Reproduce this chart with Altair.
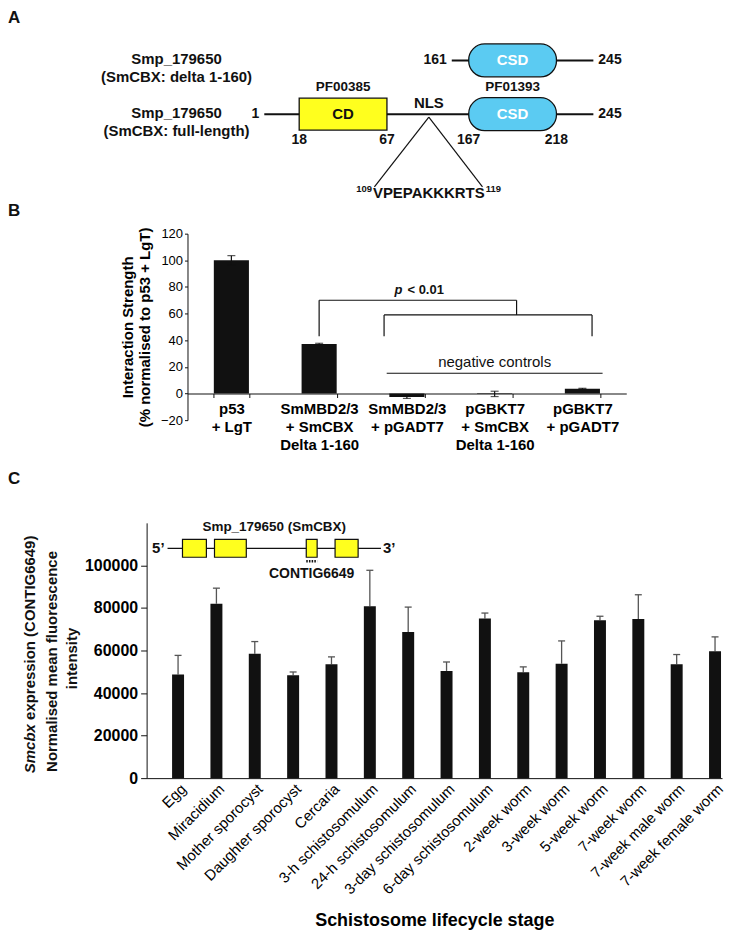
import json
import altair as alt
import pandas as pd

FONT = "Liberation Sans"
BLACK = "#111111"
YELLOW = "#FFFF1E"
CYAN = "#5BCBF2"

# ================= Panel A data: protein architecture =================
prot_names = ["Smp_179650\n(SmCBX: delta 1-160)", "Smp_179650\n(SmCBX: full-length)"]
prot_track = [1, 2]
prot_start = [161, 1]
prot_end = [245, 245]

dom_label = ["CD", "CSD", "CSD"]
dom_pfam = ["PF00385", "PF01393", ""]
dom_track = [2, 2, 1]
dom_start = [18, 167, 167]
dom_end = [67, 218, 218]

nls_start, nls_end = 109, 119
nls_seq = "VPEPAKKKRTS"
nls_zoom_to = [60, 175]

# ================= Panel B data: yeast two-hybrid =================
b_labels = ["p53\n+ LgT", "SmMBD2/3\n+ SmCBX\nDelta 1-160", "SmMBD2/3\n+ pGADT7",
            "pGBKT7\n+ SmCBX\nDelta 1-160", "pGBKT7\n+ pGADT7"]
b_vals = [100, 37.2, -2.7, -0.3, 3.5]
b_errs = [3.5, 0.5, 1.0, 2.0, 0.4]
# significance brackets (x in category-step units, y in % units)
br_left = [1.5, 2.24]
br_right = [3.75, 4.61]
br_top = [70, 59]
br_foot_left = [43, 43]
br_foot_right = [59, 43]
neg_ctrl_x = [2.27, 4.73]
neg_ctrl_y = 15.2

# ================= Panel C data: lifecycle expression =================
stages = ["Egg", "Miracidium", "Mother sporocyst", "Daughter sporocyst", "Cercaria",
          "3-h schistosomulum", "24-h schistosomulum", "3-day schistosomulum",
          "6-day schistosomulum", "2-week worm", "3-week worm", "5-week worm",
          "7-week worm", "7-week male worm", "7-week female worm"]
c_vals = [48700, 82000, 58500, 48400, 53500, 80800, 68700, 50400, 75000,
          49800, 53800, 74200, 74800, 53500, 59600]
c_errs = [9000, 7300, 5700, 1500, 3500, 16900, 11700, 4200, 2600,
          2500, 10700, 1900, 11400, 4600, 6800]
gene_exon_start = [7.0, 22.0, 65.0, 78.5]
gene_exon_end = [18.2, 36.9, 70.1, 89.3]
gene_len = 100
probe_exon = 2
gene_track = 110000

W = 577          # common panel width (all panels share the same left origin)
LX = -139        # panel-letter x relative to the shared origin


def letter(t, y):
    return alt.Chart(pd.DataFrame({"t": [t]})).mark_text(
        align="left", baseline="top", fontSize=17, fontWeight="bold", color=BLACK
    ).encode(x=alt.value(LX), y=alt.value(y), text="t:N")


# ---------------- Panel A ----------------
xA = dict(scale=alt.Scale(domain=[1, 18, 67, 114, 161, 167, 218, 245],
                          range=[118, 153, 241, 283, 306, 323, 411, 448],
                          nice=False, zero=False), axis=None)
yA = dict(scale=alt.Scale(domain=[0.16, 3.5], reverse=True, nice=False, zero=False), axis=None)

prot = pd.DataFrame(dict(name=prot_names, track=prot_track, start=prot_start, end=prot_end))
prot["s_lab"] = prot["start"].astype(str)
prot["e_lab"] = prot["end"].astype(str)
dom = pd.DataFrame(dict(label=dom_label, pfam=dom_pfam, track=dom_track, start=dom_start, end=dom_end))
dom["mid"] = (dom["start"] + dom["end"]) / 2
full_dom = dom[dom["track"] == 2]
bounds = pd.DataFrame(dict(pos=list(full_dom["start"]) + list(full_dom["end"]), track=2))
bounds["lab"] = bounds["pos"].astype(str)
nls = pd.DataFrame(dict(mid=[(nls_start + nls_end) / 2] * 2, to=nls_zoom_to, track=[2, 2]))
nls1 = nls.iloc[:1].copy()
nls1["seq"] = nls_seq
nls1["s"] = str(nls_start)
nls1["e"] = str(nls_end)

base_prot = alt.Chart(prot)
lines = base_prot.mark_rule(color=BLACK, strokeWidth=2).encode(
    x=alt.X("start:Q", **xA), x2="end:Q", y=alt.Y("track:Q", **yA))
row_lab = base_prot.mark_text(fontSize=15, fontWeight="bold", lineBreak="\n", lineHeight=18,
                              dx=-88, dy=-1, color=BLACK).encode(
    x=alt.XDatum(1, **xA), y=alt.Y("track:Q", **yA), text="name:N")
start_lab = base_prot.mark_text(fontSize=14, fontWeight="bold", align="right", dx=-5, color=BLACK).encode(
    x=alt.X("start:Q", **xA), y=alt.Y("track:Q", **yA), text="s_lab:N")
end_lab = base_prot.mark_text(fontSize=14, fontWeight="bold", align="left", dx=5, color=BLACK).encode(
    x=alt.X("end:Q", **xA), y=alt.Y("track:Q", **yA), text="e_lab:N")

base_dom = alt.Chart(dom)
cd_box = base_dom.transform_filter(alt.datum.label == "CD").mark_bar(
    orient="horizontal", size=32, color=YELLOW, stroke=BLACK, strokeWidth=1.3).encode(
    x=alt.X("start:Q", **xA), x2="end:Q", y=alt.Y("track:Q", **yA))
csd_box = base_dom.transform_filter(alt.datum.label == "CSD").mark_bar(
    orient="horizontal", size=33, color=CYAN, stroke=BLACK, strokeWidth=1.3, cornerRadius=16).encode(
    x=alt.X("start:Q", **xA), x2="end:Q", y=alt.Y("track:Q", **yA))
dom_txt = base_dom.mark_text(fontSize=15, fontWeight="bold").encode(
    x=alt.X("mid:Q", **xA), y=alt.Y("track:Q", **yA), text="label:N",
    color=alt.Color("label:N", scale=alt.Scale(domain=["CD", "CSD"], range=[BLACK, "#ffffff"]), legend=None))
pfam_txt = base_dom.transform_filter(alt.datum.pfam != "").mark_text(
    fontSize=13.5, fontWeight="bold", dy=-27, color=BLACK).encode(
    x=alt.X("mid:Q", **xA), y=alt.Y("track:Q", **yA), text="pfam:N")
bound_txt = alt.Chart(bounds).mark_text(fontSize=14, fontWeight="bold", dy=26, color=BLACK).encode(
    x=alt.X("pos:Q", **xA), y=alt.Y("track:Q", **yA), text="lab:N")
nls_lab = alt.Chart(nls1).mark_text(fontSize=15, fontWeight="bold", dy=-11, color=BLACK).encode(
    x=alt.X("mid:Q", **xA), y=alt.Y("track:Q", **yA), text=alt.value("NLS"))
nls_legs = alt.Chart(nls).mark_rule(color=BLACK, strokeWidth=1.2, yOffset=3, y2Offset=73).encode(
    x=alt.X("mid:Q", **xA), x2="to:Q", y=alt.Y("track:Q", **yA), y2="track:Q")
nls_seq_t = alt.Chart(nls1).mark_text(fontSize=15, fontWeight="bold", dy=79, color=BLACK).encode(
    x=alt.X("mid:Q", **xA), y=alt.Y("track:Q", **yA), text="seq:N")
nls_s = alt.Chart(nls1).mark_text(fontSize=9.5, fontWeight="bold", dy=75, dx=-57, align="right", color=BLACK).encode(
    x=alt.X("mid:Q", **xA), y=alt.Y("track:Q", **yA), text="s:N")
nls_e = alt.Chart(nls1).mark_text(fontSize=9.5, fontWeight="bold", dy=75, dx=57, align="left", color=BLACK).encode(
    x=alt.X("mid:Q", **xA), y=alt.Y("track:Q", **yA), text="e:N")

panelA = alt.layer(lines, nls_legs, cd_box, csd_box, dom_txt, pfam_txt, bound_txt, row_lab,
                   start_lab, end_lab, nls_lab, nls_seq_t, nls_s, nls_e,
                   letter("A", 0)).properties(width=W, height=190)

# ---------------- Panel B ----------------
B_RANGE = [41, 481]
bdf = pd.DataFrame(dict(cat=b_labels, val=b_vals, err=b_errs))
bdf["lo"] = bdf["val"] - bdf["err"]
bdf["hi"] = bdf["val"] + bdf["err"]

bx = alt.X("cat:N", sort=b_labels,
           scale=alt.Scale(range=B_RANGE, paddingInner=0.6, paddingOuter=0.3),
           axis=alt.Axis(title=None, labelExpr="split(datum.label, '\\n')", labelFontWeight="bold",
                         labelFontSize=15, labelLineHeight=18, labelColor="black", labelAngle=0,
                         tickBand="extent", tickSize=4, tickColor=BLACK, domainColor=BLACK,
                         offset=-26.7, labelPadding=4))
bscale = alt.Scale(domain=[-20, 120], nice=False)
baxis = alt.Axis(values=list(range(-20, 121, 20)), grid=False, offset=-B_RANGE[0],
                 title=["Interaction Strength", "(% normalised to p53 + LgT)"],
                 titleFontSize=15, titleFontWeight="bold", titleLineHeight=17, titleColor="black",
                 labelFontSize=13, labelColor="black", tickSize=3, labelPadding=2,
                 tickColor=BLACK, domainColor=BLACK, titlePadding=8)
bbase = alt.Chart(bdf)
b_bars = bbase.mark_bar(color=BLACK).encode(x=bx, y=alt.Y("val:Q", scale=bscale, axis=baxis))
b_err = bbase.mark_rule(color=BLACK, strokeWidth=1.2).encode(
    x=bx, y=alt.Y("lo:Q", scale=bscale, axis=baxis), y2="hi:Q")
b_cap_hi = bbase.mark_tick(color=BLACK, size=8, thickness=1.2).encode(
    x=bx, y=alt.Y("hi:Q", scale=bscale, axis=baxis))
b_cap_lo = bbase.mark_tick(color=BLACK, size=8, thickness=1.2).encode(
    x=bx, y=alt.Y("lo:Q", scale=bscale, axis=baxis))
b_main = alt.layer(b_bars, b_err, b_cap_hi, b_cap_lo)

segs = []
for l, r, t, fl, fr in zip(br_left, br_right, br_top, br_foot_left, br_foot_right):
    segs += [dict(x=l, x2=l, y=fl, y2=t), dict(x=l, x2=r, y=t, y2=t), dict(x=r, x2=r, y=t, y2=fr)]
segs.append(dict(x=neg_ctrl_x[0], x2=neg_ctrl_x[1], y=neg_ctrl_y, y2=neg_ctrl_y))
sdf = pd.DataFrame(segs)
axB = dict(scale=alt.Scale(domain=[0, 5], range=B_RANGE, nice=False, zero=False), axis=None)
ayB = dict(scale=alt.Scale(domain=[-20, 120], nice=False), axis=None)
b_br = alt.Chart(sdf).mark_rule(color=BLACK, strokeWidth=1.2).encode(
    x=alt.X("x:Q", **axB), x2="x2:Q", y=alt.Y("y:Q", **ayB), y2="y2:Q")
tdf = pd.DataFrame(dict(x=[2.45], y=[78], nx=[3.5], ny=[23.5]))
b_p = alt.Chart(tdf).mark_text(fontSize=13, fontWeight="bold", fontStyle="italic", align="right",
                               color=BLACK).encode(
    x=alt.X("x:Q", **axB), y=alt.Y("y:Q", **ayB), text=alt.value("p"))
b_p2 = alt.Chart(tdf).mark_text(fontSize=13, fontWeight="bold", align="left", dx=5, color=BLACK).encode(
    x=alt.X("x:Q", **axB), y=alt.Y("y:Q", **ayB), text=alt.value("< 0.01"))
b_neg = alt.Chart(tdf).mark_text(fontSize=15, color=BLACK).encode(
    x=alt.X("nx:Q", **axB), y=alt.Y("ny:Q", **ayB), text=alt.value("negative controls"))
b_ann = alt.layer(b_br, b_p, b_p2, b_neg, letter("B", -31))

panelB = alt.layer(b_main, b_ann).resolve_scale(x="independent", y="independent").properties(
    width=B_RANGE[1], height=187)

# ---------------- Panel C ----------------
cdf = pd.DataFrame(dict(stage=stages, val=c_vals, err=c_errs))
cdf["i"] = range(len(stages))
cdf["hi"] = cdf["val"] + cdf["err"]

cx = alt.X("i:Q", scale=alt.Scale(domain=[-0.69, -0.69 + W / 39.14], nice=False, zero=False),
           axis=alt.Axis(values=list(range(len(stages))), labelExpr=json.dumps(stages) + "[datum.value]",
                         labelAngle=-45, labelFontSize=15, labelColor="black", ticks=False,
                         labelPadding=3, labelOverlap=False, labelFlush=False, domainColor=BLACK,
                         grid=False, title="Schistosome lifecycle stage", titleFontSize=18,
                         titleFontWeight="bold", titlePadding=15, titleColor="black"))
cscale = alt.Scale(domain=[0, 120000], nice=False)
caxis = alt.Axis(values=list(range(0, 100001, 20000)), format="d", labelFontSize=16,
                 labelFontWeight="bold", labelColor="black", tickSize=6, labelPadding=3,
                 tickColor=BLACK, domainColor=BLACK, grid=False, title=None)
cbase = alt.Chart(cdf)
c_err = cbase.mark_rule(color="#555555", strokeWidth=1.3).encode(
    x=cx, y=alt.Y("val:Q", scale=cscale, axis=caxis), y2="hi:Q")
c_cap = cbase.mark_rule(color="#555555", strokeWidth=1.3, xOffset=-3.5, x2Offset=3.5).encode(
    x=cx, x2="i:Q", y=alt.Y("hi:Q", scale=cscale, axis=caxis))
c_bars = cbase.mark_bar(size=12, color=BLACK, orient="vertical").encode(
    x=cx, y=alt.Y("val:Q", scale=cscale, axis=caxis, stack=None))

one = pd.DataFrame({"t": ["x"]})
tstyle = dict(angle=270, baseline="middle", fontSize=15, fontWeight="bold", color=BLACK)
t1a = alt.Chart(one).mark_text(align="left", fontStyle="italic", **tstyle).encode(
    x=alt.value(-117), y=alt.value(251), text=alt.value("Smcbx"))
t1b = alt.Chart(one).mark_text(align="left", **tstyle).encode(
    x=alt.value(-117), y=alt.value(197.6), text=alt.value("expression (CONTIG6649)"))
t2 = alt.Chart(one).mark_text(align="center", **tstyle).encode(
    x=alt.value(-95), y=alt.value(139), text=alt.value("Normalised mean fluorescence"))
t3 = alt.Chart(one).mark_text(align="center", **tstyle).encode(
    x=alt.value(-75), y=alt.value(136), text=alt.value("intensity"))
c_main = alt.layer(c_err, c_cap, c_bars, t1a, t1b, t2, t3, letter("C", -52))

gdf = pd.DataFrame(dict(start=gene_exon_start, end=gene_exon_end, gy=gene_track))
gdf["mid"] = (gdf["start"] + gdf["end"]) / 2
gline = pd.DataFrame(dict(s=[0], e=[gene_len], gy=[gene_track], m=[gene_len / 2]))
probe = gdf.iloc[[probe_exon]]
gX = dict(scale=alt.Scale(domain=[-9.81, -9.81 + W / 2.14], nice=False, zero=False), axis=None)
gY = dict(scale=alt.Scale(domain=[0, 120000], nice=False), axis=None)
g_line = alt.Chart(gline).mark_rule(color=BLACK, strokeWidth=1.3).encode(
    x=alt.X("s:Q", **gX), x2="e:Q", y=alt.Y("gy:Q", **gY))
g_exons = alt.Chart(gdf).mark_bar(orient="horizontal", size=18, color=YELLOW, stroke=BLACK,
                                  strokeWidth=1.2).encode(
    x=alt.X("start:Q", **gX), x2="end:Q", y=alt.Y("gy:Q", **gY))
g5 = alt.Chart(gline).mark_text(fontSize=15, fontWeight="bold", align="right", dx=-3, color=BLACK).encode(
    x=alt.X("s:Q", **gX), y=alt.Y("gy:Q", **gY), text=alt.value("5\u2019"))
g3 = alt.Chart(gline).mark_text(fontSize=15, fontWeight="bold", align="left", dx=2, color=BLACK).encode(
    x=alt.X("e:Q", **gX), y=alt.Y("gy:Q", **gY), text=alt.value("3\u2019"))
gtitle = alt.Chart(gline).mark_text(fontSize=13.5, fontWeight="bold", dy=-21, color=BLACK).encode(
    x=alt.X("m:Q", **gX), y=alt.Y("gy:Q", **gY), text=alt.value("Smp_179650 (SmCBX)"))
gdots = alt.Chart(probe).mark_rule(color=BLACK, strokeWidth=2.5, strokeDash=[1.5, 1.2], yOffset=13,
                                   y2Offset=13).encode(
    x=alt.X("start:Q", **gX), x2="end:Q", y=alt.Y("gy:Q", **gY))
gprobe = alt.Chart(probe).mark_text(fontSize=14, fontWeight="bold", dy=26, color=BLACK).encode(
    x=alt.X("mid:Q", **gX), y=alt.Y("gy:Q", **gY), text=alt.value("CONTIG6649"))
c_gene = alt.layer(g_line, g_exons, g5, g3, gtitle, gdots, gprobe)

panelC = alt.layer(c_main, c_gene).resolve_scale(x="independent", y="independent").properties(
    width=W, height=256)

top = alt.vconcat(panelA, panelB, spacing=0)
chart = alt.vconcat(top, panelC, spacing=17).properties(
    padding=0).configure(font=FONT).configure_view(stroke=None)

chart.save("out.html", embed_options={"renderer": "svg", "actions": False})
